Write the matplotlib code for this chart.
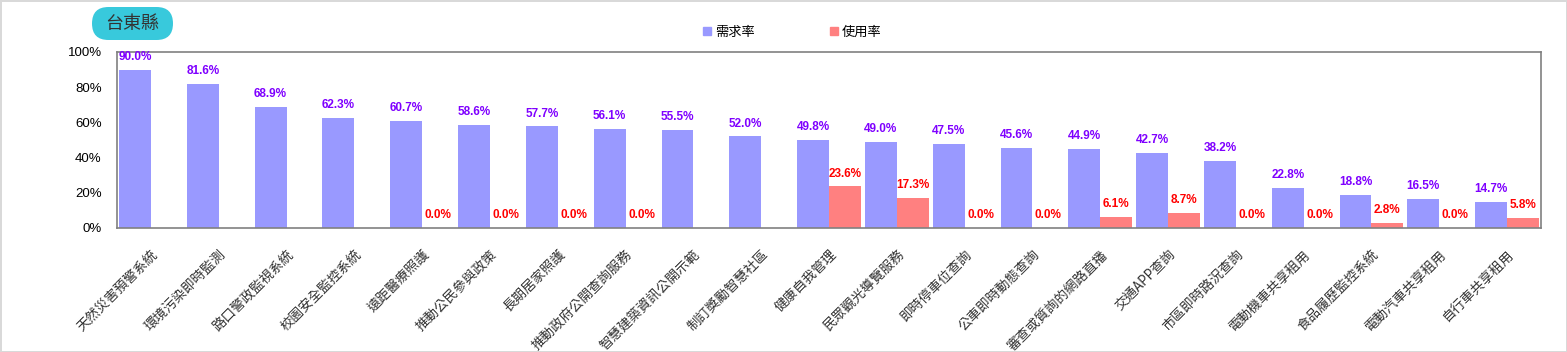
import numpy as np
import matplotlib
matplotlib.use("Agg")
import matplotlib.pyplot as plt
import matplotlib.transforms as mtransforms
from matplotlib.patches import FancyBboxPatch
from matplotlib.lines import Line2D

plt.rcParams['font.family'] = ['Liberation Sans', 'Noto Sans CJK TC', 'DejaVu Sans']

title = "台東縣"
categories = ["天然災害預警系統", "環境污染即時監測", "路口警政監視系統", "校園安全監控系統",
              "遠距醫療照護", "推動公民參與政策", "長期居家照護", "推動政府公開查詢服務",
              "智慧建築資訊公開示範", "制訂獎勵智慧社區", "健康自我管理", "民眾觀光導覽服務",
              "即時停車位查詢", "公車即時動態查詢", "審查或質詢的網路直播", "交通APP查詢",
              "市區即時路況查詢", "電動機車共享租用", "食品履歷監控系統", "電動汽車共享租用",
              "自行車共享租用"]
demand = [90.0, 81.6, 68.9, 62.3, 60.7, 58.6, 57.7, 56.1, 55.5, 52.0, 49.8, 49.0,
          47.5, 45.6, 44.9, 42.7, 38.2, 22.8, 18.8, 16.5, 14.7]
usage = [np.nan, np.nan, np.nan, np.nan, 0.0, 0.0, 0.0, 0.0, np.nan, np.nan, 23.6, 17.3,
         0.0, 0.0, 6.1, 8.7, 0.0, 0.0, 2.8, 0.0, 5.8]
series_names = ["需求率", "使用率"]
yticks = [0, 20, 40, 60, 80, 100]

c_demand = "#9999FF"
c_usage = "#FF8080"
c_dlabel = "#7F00FF"
c_ulabel = "#FF0000"

W, H = 1567, 352
fig = plt.figure(figsize=(W / 100, H / 100), dpi=100, linewidth=2, edgecolor="#D9D9D9")
ax = fig.add_axes([117 / W, 1 - 228 / H, (1541 - 117) / W, (228 - 52) / H])

n = len(categories)
x = np.arange(n) + 0.5
bw = 0.47
ax.bar(x - bw / 2, demand, width=bw, color=c_demand, zorder=2)
ax.bar(x + bw / 2, np.nan_to_num(usage, nan=0.0), width=bw, color=c_usage, zorder=2)

for xi, v in zip(x, demand):
    ax.annotate(f"{v:.1f}%", (xi - bw / 2, v), xytext=(0, 5), textcoords="offset points",
                ha="center", va="bottom", fontsize=8.5, fontweight="bold", color=c_dlabel,
                annotation_clip=False)
for xi, v in zip(x, usage):
    if np.isnan(v):
        continue
    ax.annotate(f"{v:.1f}%", (xi + bw / 2, v), xytext=(0, 5), textcoords="offset points",
                ha="center", va="bottom", fontsize=8.5, fontweight="bold", color=c_ulabel,
                annotation_clip=False)

ax.set_xlim(0, n)
ax.set_ylim(0, 100)
ax.set_yticks(yticks)
ax.set_yticklabels([f"{t}%" for t in yticks], fontsize=9.5, color="#000000")
ax.set_xticks(x)
ax.set_xticklabels(categories, rotation=45, ha="right", va="top", rotation_mode="anchor",
                   fontsize=9.7, color="#333333", family=["Noto Sans CJK TC", "DejaVu Sans"])
shift = mtransforms.ScaledTranslation(-4 / 100, 0, fig.dpi_scale_trans)
for lbl in ax.get_xticklabels():
    lbl.set_transform(lbl.get_transform() + shift)
ax.tick_params(axis="both", length=0)
ax.tick_params(axis="y", pad=11)
ax.tick_params(axis="x", pad=14)
for s in ax.spines.values():
    s.set_color("#808080")
    s.set_linewidth(1.2)

# legend
handles = [Line2D([], [], marker="s", linestyle="none", markersize=6, color=c) for c in (c_demand, c_usage)]
fig.legend(handles, series_names, loc="center", bbox_to_anchor=(792 / W, 1 - 32 / H), ncol=2,
           frameon=False, columnspacing=5.6, handletextpad=0.3, handlelength=0.7,
           prop={"family": ["Noto Sans CJK TC"], "size": 9.5})

# title badge (pill), coordinates in inches on the figure
badge = FancyBboxPatch((0.92, (H - 40) / 100), 0.81, 0.33,
                       boxstyle="round,pad=0,rounding_size=0.165", transform=fig.dpi_scale_trans,
                       facecolor="#38C9DC", edgecolor="none")
fig.patches.append(badge)
fig.text(132.5 / W, 1 - 24.5 / H, title, ha="center", va="center", fontsize=13,
         color="#333333", family=["Noto Sans CJK TC"])

fig.savefig("out.png", dpi=100, edgecolor=fig.get_edgecolor())
